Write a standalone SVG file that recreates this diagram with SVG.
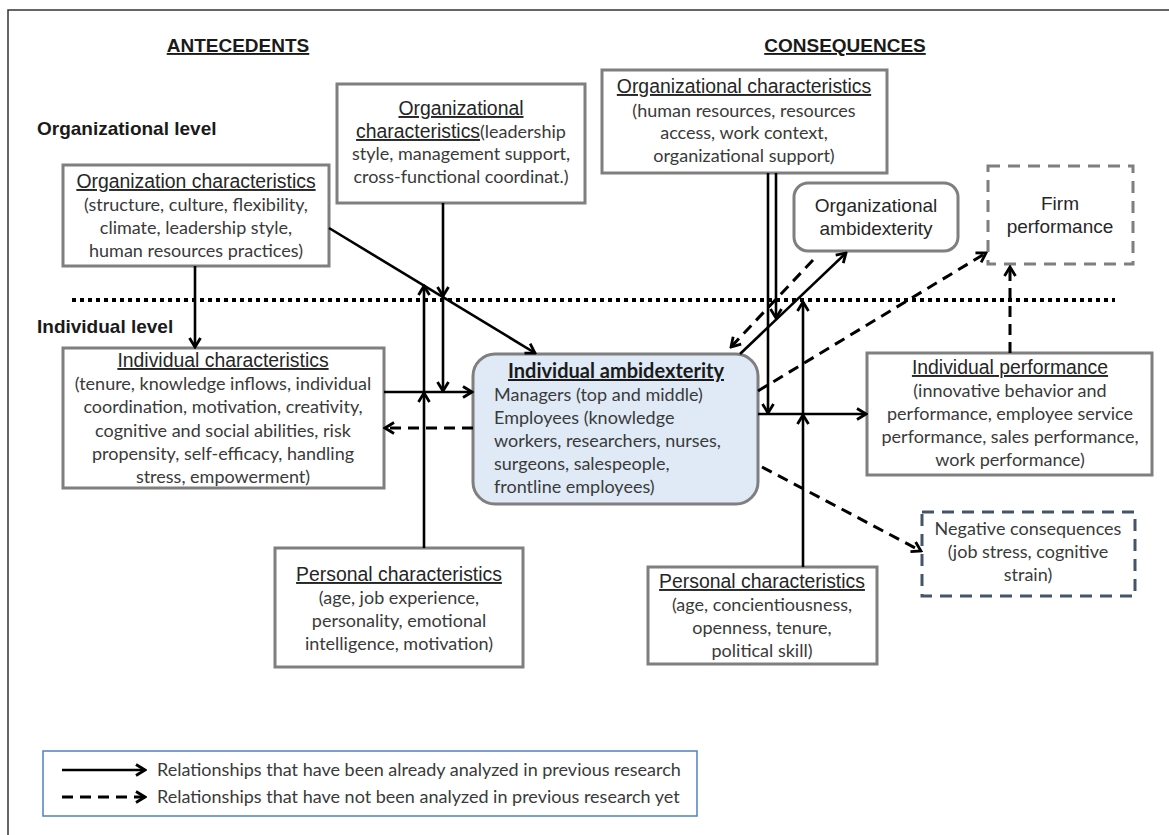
<svg xmlns="http://www.w3.org/2000/svg" width="1169" height="835" viewBox="0 0 1169 835">
<style>
.box{fill:#fff;stroke:#7f7f7f;stroke-width:3}
.hd{font-family:"Liberation Sans",Arial,sans-serif;font-size:19px;fill:#262626}
.hdu{font-family:"Liberation Sans",Arial,sans-serif;font-size:19.4px;fill:#262626;text-decoration:underline}
.bd{font-family:Lato,"Open Sans",sans-serif;font-size:18px;fill:#3a3a3a}
.lvl{font-family:"Liberation Sans",Arial,sans-serif;font-size:19px;font-weight:bold;fill:#1a1a1a}
.c{text-anchor:middle}
.ln{fill:none;stroke:#000;stroke-width:2.6}
.ds{fill:none;stroke:#000;stroke-width:3;stroke-dasharray:11 7}
</style>
<defs>
<marker id="ah" viewBox="0 0 14 14" refX="12" refY="7" markerWidth="14" markerHeight="14" markerUnits="userSpaceOnUse" orient="auto">
<path d="M3,1.5 L12,7 L3,12.5" fill="none" stroke="#000" stroke-width="2.8"/>
</marker>
</defs>
<rect width="1169" height="835" fill="#fff"/>
<path d="M8,835 V10 H1169" fill="none" stroke="#333" stroke-width="1.5"/>

<g id="headers">
<text x="238" y="52" class="lvl c" text-decoration="underline">ANTECEDENTS</text>
<text x="845" y="52" class="lvl c" text-decoration="underline">CONSEQUENCES</text>
<text x="37" y="135" class="lvl">Organizational level</text>
<text x="37" y="333" class="lvl">Individual level</text>
</g>

<line x1="72" y1="300" x2="1115" y2="300" stroke="#000" stroke-width="4" stroke-dasharray="4 4"/>

<g id="org-char-left">
<rect x="63" y="165" width="266" height="101" class="box"/>
<text x="196" y="188" class="hdu c">Organization characteristics</text>
<text x="196" y="211" class="bd c">(structure, culture, flexibility,</text>
<text x="196" y="234" class="bd c">climate, leadership style,</text>
<text x="196" y="257" class="bd c">human resources practices)</text>
</g>

<g id="org-char-mid">
<rect x="337" y="84" width="248" height="119" class="box"/>
<text x="461" y="115" class="hdu c">Organizational</text>
<text x="461" y="138" class="c"><tspan class="hdu">characteristics</tspan><tspan class="bd">(leadership</tspan></text>
<text x="461" y="160" class="bd c">style, management support,</text>
<text x="461" y="183" class="bd c">cross-functional coordinat.)</text>
</g>

<g id="org-char-right">
<rect x="602" y="70" width="285" height="103" class="box"/>
<text x="744" y="93" class="hdu c">Organizational characteristics</text>
<text x="744" y="117" class="bd c">(human resources, resources</text>
<text x="744" y="139" class="bd c">access, work context,</text>
<text x="744" y="162" class="bd c">organizational support)</text>
</g>

<g id="org-ambidexterity">
<rect x="794" y="183" width="164" height="68" rx="14" class="box"/>
<text x="876" y="212" class="hd c">Organizational</text>
<text x="876" y="235" class="hd c">ambidexterity</text>
</g>

<g id="firm-performance">
<rect x="988" y="166" width="145" height="98" fill="#fff" stroke="#7f7f7f" stroke-width="3" stroke-dasharray="12 8"/>
<text x="1060" y="210" class="hd c">Firm</text>
<text x="1060" y="233" class="hd c">performance</text>
</g>

<g id="individual-char">
<rect x="63" y="348" width="321" height="140" class="box"/>
<text x="223" y="367" class="hdu c">Individual characteristics</text>
<text x="223" y="390" class="bd c">(tenure, knowledge inflows, individual</text>
<text x="223" y="413" class="bd c">coordination, motivation, creativity,</text>
<text x="223" y="437" class="bd c">cognitive and social abilities, risk</text>
<text x="223" y="460" class="bd c">propensity, self-efficacy, handling</text>
<text x="223" y="483" class="bd c">stress, empowerment)</text>
</g>

<g id="individual-ambidexterity">
<rect x="473" y="354" width="285" height="150" rx="22" fill="#dfeaf6" stroke="#7f7f7f" stroke-width="3"/>
<text x="616" y="378" class="c" font-family="Lato,sans-serif" font-size="20px" font-weight="bold" fill="#1a1a1a" text-decoration="underline">Individual ambidexterity</text>
<text x="494" y="401" class="bd">Managers (top and middle)</text>
<text x="494" y="424" class="bd">Employees (knowledge</text>
<text x="494" y="447" class="bd">workers, researchers, nurses,</text>
<text x="494" y="470" class="bd">surgeons, salespeople,</text>
<text x="494" y="493" class="bd">frontline employees)</text>
</g>

<g id="individual-performance">
<rect x="867" y="353" width="285" height="122" class="box"/>
<text x="1010" y="374" class="hdu c">Individual performance</text>
<text x="1010" y="397" class="bd c">(innovative behavior and</text>
<text x="1010" y="420" class="bd c">performance, employee service</text>
<text x="1010" y="443" class="bd c">performance, sales performance,</text>
<text x="1010" y="466" class="bd c">work performance)</text>
</g>

<g id="negative-consequences">
<rect x="922" y="512" width="213" height="84" fill="#fff" stroke="#44546a" stroke-width="3" stroke-dasharray="12 8"/>
<text x="1028" y="535" class="bd c">Negative consequences</text>
<text x="1028" y="558" class="bd c">(job stress, cognitive</text>
<text x="1028" y="581" class="bd c">strain)</text>
</g>

<g id="personal-char-left">
<rect x="275" y="548" width="248" height="119" class="box"/>
<text x="399" y="581" class="hdu c">Personal characteristics</text>
<text x="399" y="604" class="bd c">(age, job experience,</text>
<text x="399" y="627" class="bd c">personality, emotional</text>
<text x="399" y="650" class="bd c">intelligence, motivation)</text>
</g>

<g id="personal-char-right">
<rect x="648" y="567" width="229" height="97" class="box"/>
<text x="762" y="588" class="hdu c">Personal characteristics</text>
<text x="762" y="611" class="bd c">(age, concientiousness,</text>
<text x="762" y="634" class="bd c">openness, tenure,</text>
<text x="762" y="657" class="bd c">political skill)</text>
</g>

<g id="connectors">
<path class="ln" d="M195,266 V347" marker-end="url(#ah)"/>
<path class="ln" d="M329,228 L535,353" marker-end="url(#ah)"/>
<path class="ln" d="M443,203 V296" marker-end="url(#ah)"/>
<path class="ln" d="M443,296 V391" marker-end="url(#ah)"/>
<path class="ln" d="M424,548 V393" marker-end="url(#ah)"/>
<path class="ln" d="M424,393 V286" marker-end="url(#ah)"/>
<path class="ln" d="M384,392 H472" marker-end="url(#ah)"/>
<path class="ds" d="M473,428 H385" marker-end="url(#ah)"/>
<path class="ln" d="M768,173 V413" marker-end="url(#ah)"/>
<path class="ln" d="M776,173 V318" marker-end="url(#ah)"/>
<path class="ln" d="M740,354 L846,253" marker-end="url(#ah)"/>
<path class="ds" d="M813,260 L731,347" marker-end="url(#ah)"/>
<path class="ln" d="M803,567 V415" marker-end="url(#ah)"/>
<path class="ln" d="M803,415 V302" marker-end="url(#ah)"/>
<path class="ln" d="M758,414 H866" marker-end="url(#ah)"/>
<path class="ds" d="M758,391 L986,253" marker-end="url(#ah)"/>
<path class="ds" d="M1010,353 V267" marker-end="url(#ah)"/>
<path class="ds" d="M762,467 L921,551" marker-end="url(#ah)"/>
</g>

<g id="legend">
<rect x="43" y="751" width="654" height="65" fill="#fff" stroke="#4f81bd" stroke-width="1.5"/>
<path class="ln" d="M62,770 H145" marker-end="url(#ah)"/>
<path class="ds" d="M62,797 H145" marker-end="url(#ah)"/>
<text x="157" y="776" class="bd">Relationships that have been already analyzed in previous research</text>
<text x="157" y="803" class="bd">Relationships that have not been analyzed in previous research yet</text>
</g>
</svg>
